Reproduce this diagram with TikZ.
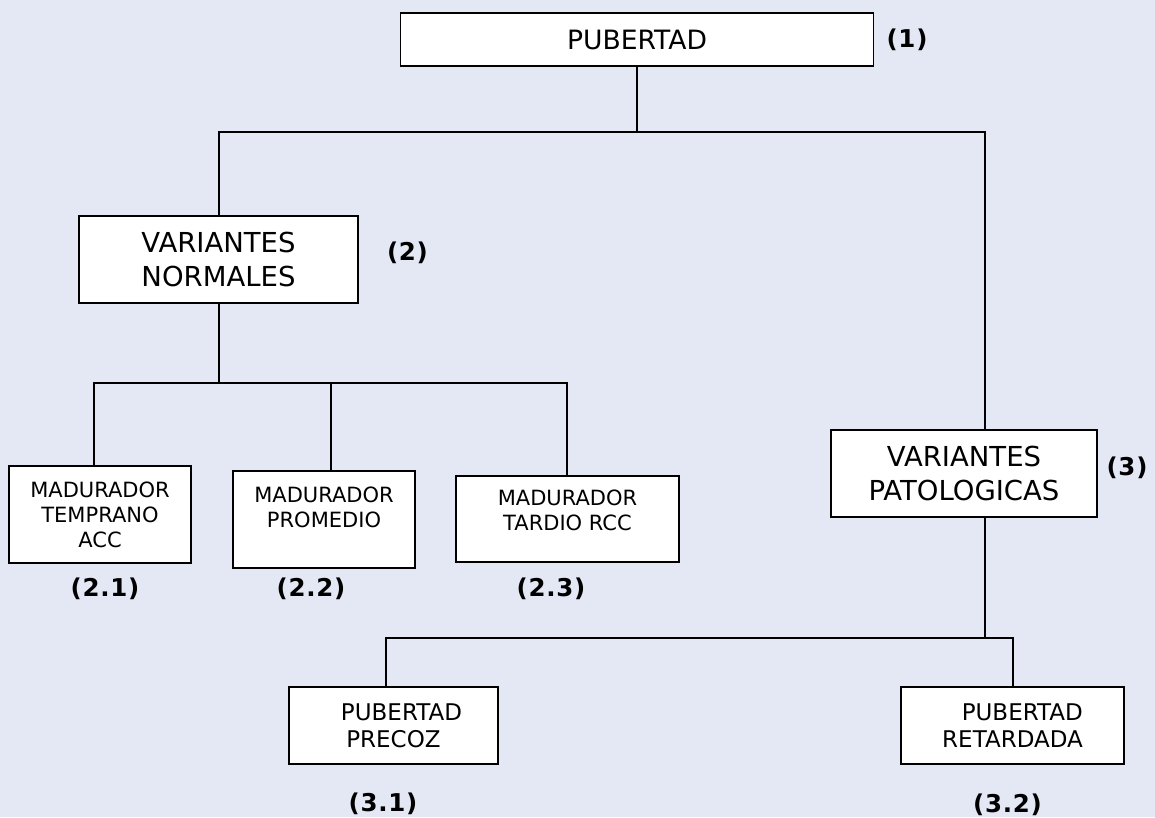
\documentclass[tikz,border=0pt]{standalone}
\usepackage{fontspec}
\setmainfont{DejaVu Sans}
\newfontfamily\tagfont[LetterSpace=3]{DejaVu Sans}
\definecolor{pagebg}{RGB}{228,232,244}
\tikzset{
  box/.style={draw, fill=white, line width=1.6pt, inner sep=0pt, align=center},
  conn/.style={line width=1.4pt},
  tag/.style={font=\tagfont\bfseries\fontsize{24.5}{29}\selectfont, inner sep=0pt},
  bigtxt/.style={font=\fontsize{27.5}{33.5}\selectfont},
  midtxt/.style={font=\fontsize{23}{27}\selectfont},
  smalltxt/.style={font=\fontsize{21}{25}\selectfont}
}
\begin{document}
\begin{tikzpicture}[x=1pt,y=-1pt]
  \fill[pagebg] (0,0) rectangle (1155,817);
  \useasboundingbox (0,0) rectangle (1155,817);

  % boxes
  \node[box, minimum width=473pt, minimum height=53pt, font=\fontsize{26.6}{32}\selectfont] (pub) at (637,39.5) {PUBERTAD};
  \node[box, bigtxt, minimum width=279pt, minimum height=87pt] (vn) at (218.5,259.5) {VARIANTES\\NORMALES};
  \node[box, bigtxt, minimum width=266pt, minimum height=87pt] (vp) at (964,473.5) {VARIANTES\\PATOLOGICAS};
  \node[box, smalltxt, minimum width=182pt, minimum height=97pt] (mt) at (100,514.5) {MADURADOR\\TEMPRANO\\ACC};
  \node[box, smalltxt, minimum width=182pt, minimum height=97pt] (mp) at (324,519.5) {MADURADOR\\PROMEDIO\\\mbox{}};
  \node[box, smalltxt, minimum width=223pt, minimum height=86pt] (mr) at (567.5,519) {MADURADOR\\TARDIO RCC\\[-8pt]\mbox{}};
  \node[box, midtxt, minimum width=209pt, minimum height=77pt] (pp) at (393.5,725.5) {\hspace*{16pt}PUBERTAD\\PRECOZ};
  \node[box, midtxt, align=right, minimum width=223pt, minimum height=77pt] (pr) at (1012.5,725.5) {PUBERTAD\\RETARDADA};

  % reference numbers
  \node[tag] (t1) at (907,40) {(1)};
  \node[tag] (t2) at (407.5,253) {(2)};
  \node[tag] (t3) at (1127,468) {(3)};
  \node[tag] (t21) at (105,589) {(2.1)};
  \node[tag] (t22) at (311,589) {(2.2)};
  \node[tag] (t23) at (551,589) {(2.3)};
  \node[tag] (t31) at (383,804) {(3.1)};
  \node[tag] (t32) at (1007.5,805) {(3.2)};

  % bus coordinates
  \coordinate (busA) at (219,132);
  \coordinate (busAr) at (985,132);
  \coordinate (busBl) at (94,383);
  \coordinate (busBm) at (331,383);
  \coordinate (busBr) at (567,383);
  \coordinate (busCl) at (386,638);
  \coordinate (busCr) at (1013,638);

  % connectors
  \draw[conn] (pub.south) -- (pub.south |- busA);
  \draw[conn] (busA |- vn.north) -- (busA) -- (busAr) -- (busAr |- vp.north);
  \draw[conn] (busA |- vn.south) -- (busA |- busBl);
  \draw[conn] (busBl |- mt.north) -- (busBl) -- (busBr) -- (busBr |- mr.north);
  \draw[conn] (busBm) -- (busBm |- mp.north);
  \draw[conn] (busAr |- vp.south) -- (busAr |- busCl);
  \draw[conn] (busCl |- pp.north) -- (busCl) -- (busCr) -- (busCr |- pr.north);
\end{tikzpicture}
\end{document}
